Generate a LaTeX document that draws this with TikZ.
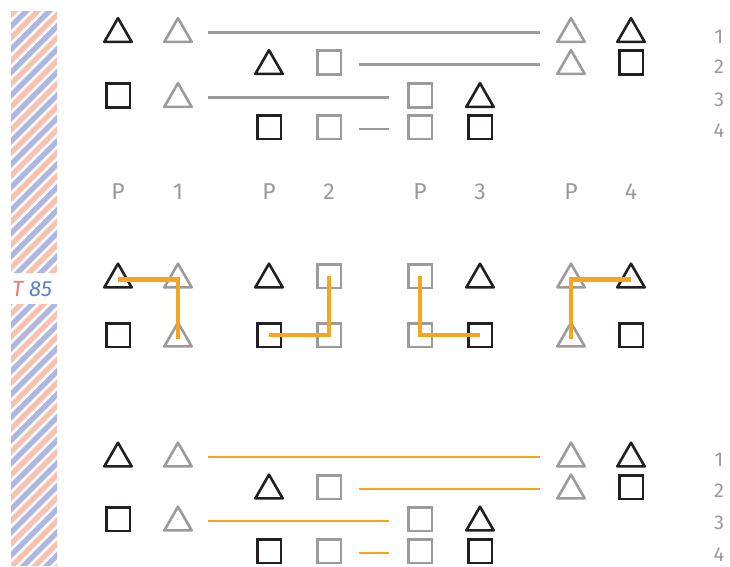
\documentclass[tikz,border=0pt]{standalone}
\usepackage{fontspec}
\setmainfont{Fira Sans}
\usetikzlibrary{shapes.geometric}
\definecolor{ink}{HTML}{231F20}
\definecolor{gry}{HTML}{9B9B9B}
\definecolor{lbl}{HTML}{9A9A9A}
\definecolor{org}{HTML}{F6A51F}
\definecolor{spink}{HTML}{F8C2AE}
\definecolor{sblue}{HTML}{ADB7E1}
\definecolor{tred}{HTML}{EE7A68}
\definecolor{tblue}{HTML}{5B7FC2}
\begin{document}
\begin{tikzpicture}[x=1pt,y=-1pt,
  tri/.style={regular polygon, regular polygon sides=3, minimum size=31.6pt, inner sep=0pt, outer sep=0pt, line width=2.6pt, line join=round, draw},
  sq/.style={rectangle, minimum size=23.6pt, inner sep=0pt, outer sep=0pt, line width=2.6pt, draw},
  bt/.style={tri, draw=ink}, gt/.style={tri, draw=gry},
  bs/.style={sq, draw=ink}, gs/.style={sq, draw=gry},
  gline/.style={draw=gry, line width=2.2pt},
  oline/.style={draw=org, line width=2.5pt},
  othick/.style={draw=org, line width=4.6pt, line join=miter},
  numlbl/.style={text=lbl, font=\fontsize{20}{24}\selectfont, inner sep=0pt},
  plbl/.style={text=lbl, font=\fontsize{23}{27}\selectfont, inner sep=0pt},
]
\useasboundingbox (0,0) rectangle (730,566);

% striped band
\begin{scope}
  \clip (11,11) rectangle (57,273) (11,304) rectangle (57,566);
  \foreach \k in {-1,...,28}{
    \fill[spink] ({22+23*\k},0) -- ({29.5+23*\k},0) -- ({29.5+23*\k-620},620) -- ({22+23*\k-620},620) -- cycle;
    \fill[sblue] ({33.5+23*\k},0) -- ({41+23*\k},0) -- ({41+23*\k-620},620) -- ({33.5+23*\k-620},620) -- cycle;
  }
\end{scope}
\node[anchor=west, inner sep=0pt, font=\fontsize{22}{26}\selectfont\itshape] (tlab) at (12,289) {\textcolor{tred}{T} \textcolor{tblue}{85}};

% ---------- top section ----------
\coordinate (ty1) at (0,32.5);
\coordinate (ty2) at (0,64.5);
\coordinate (ty3) at (0,97.5);
\coordinate (ty4) at (0,129);
\node[bt] (t1a) at (118,34) {};
\node[gt] (t1b) at (178,34) {};
\node[gt] (t1c) at (571,34) {};
\node[bt] (t1d) at (631,34) {};
\node[bt] (t2a) at (269,66) {};
\node[gs] (t2b) at (329,62.5) {};
\node[gt] (t2c) at (571,66) {};
\node[bs] (t2d) at (631,62.5) {};
\node[bs] (t3a) at (118,95.5) {};
\node[gt] (t3b) at (178,99) {};
\node[gs] (t3c) at (420,95.5) {};
\node[bt] (t3d) at (480,99) {};
\node[bs] (t4a) at (269,127) {};
\node[gs] (t4b) at (329,127) {};
\node[gs] (t4c) at (420,127) {};
\node[bs] (t4d) at (480,127) {};
\draw[gline] ([xshift=30pt]t1b.center |- ty1) -- ([xshift=-31pt]t1c.center |- ty1);
\draw[gline] ([xshift=30pt]t2b.center |- ty2) -- ([xshift=-31pt]t2c.center |- ty2);
\draw[gline] ([xshift=30pt]t3b.center |- ty3) -- ([xshift=-31pt]t3c.center |- ty3);
\draw[gline] ([xshift=30pt]t4b.center |- ty4) -- ([xshift=-31pt]t4c.center |- ty4);
\node[numlbl] (tn1) at (719,37) {1};
\node[numlbl] (tn2) at (719,67) {2};
\node[numlbl] (tn3) at (719,99.5) {3};
\node[numlbl] (tn4) at (719,130.5) {4};

% ---------- P labels ----------
\node[plbl] (p1) at (118,192) {P};
\node[plbl] (p2) at (178,192) {1};
\node[plbl] (p3) at (269,192) {P};
\node[plbl] (p4) at (329,192) {2};
\node[plbl] (p5) at (420,192) {P};
\node[plbl] (p6) at (480,192) {3};
\node[plbl] (p7) at (571,192) {P};
\node[plbl] (p8) at (631,192) {4};

% ---------- middle section ----------
\node[bt] (m1a) at (118,279.5) {};
\node[gt] (m1b) at (178,279.5) {};
\node[bs] (m1c) at (118,335) {};
\node[gt] (m1d) at (178,338.5) {};
\node[bt] (m2a) at (269,279.5) {};
\node[gs] (m2b) at (329,276) {};
\node[bs] (m2c) at (269,335) {};
\node[gs] (m2d) at (329,335) {};
\node[gs] (m3a) at (420,276) {};
\node[bt] (m3b) at (480,279.5) {};
\node[gs] (m3c) at (420,335) {};
\node[bs] (m3d) at (480,335) {};
\node[gt] (m4a) at (571,279.5) {};
\node[bt] (m4b) at (631,279.5) {};
\node[gt] (m4c) at (571,338.5) {};
\node[bs] (m4d) at (631,335) {};
\draw[othick] (m1a.center) -| (m1d.center);
\draw[othick] (m2b.center) |- (m2c.center);
\draw[othick] (m3a.center) |- (m3d.center);
\draw[othick] (m4b.center) -| (m4c.center);

% ---------- bottom section ----------
\coordinate (by1) at (0,457);
\coordinate (by2) at (0,489);
\coordinate (by3) at (0,521);
\coordinate (by4) at (0,553);
\node[bt] (b1a) at (118,458.5) {};
\node[gt] (b1b) at (178,458.5) {};
\node[gt] (b1c) at (571,458.5) {};
\node[bt] (b1d) at (631,458.5) {};
\node[bt] (b2a) at (269,490.5) {};
\node[gs] (b2b) at (329,487) {};
\node[gt] (b2c) at (571,490.5) {};
\node[bs] (b2d) at (631,487) {};
\node[bs] (b3a) at (118,519) {};
\node[gt] (b3b) at (178,522.5) {};
\node[gs] (b3c) at (420,519) {};
\node[bt] (b3d) at (480,522.5) {};
\node[bs] (b4a) at (269,551) {};
\node[gs] (b4b) at (329,551) {};
\node[gs] (b4c) at (420,551) {};
\node[bs] (b4d) at (480,551) {};
\draw[oline] ([xshift=30pt]b1b.center |- by1) -- ([xshift=-31pt]b1c.center |- by1);
\draw[oline] ([xshift=30pt]b2b.center |- by2) -- ([xshift=-31pt]b2c.center |- by2);
\draw[oline] ([xshift=30pt]b3b.center |- by3) -- ([xshift=-31pt]b3c.center |- by3);
\draw[oline] ([xshift=30pt]b4b.center |- by4) -- ([xshift=-31pt]b4c.center |- by4);
\node[numlbl] (bn1) at (719,460) {1};
\node[numlbl] (bn2) at (719,490.5) {2};
\node[numlbl] (bn3) at (719,523) {3};
\node[numlbl] (bn4) at (719,554.5) {4};
\end{tikzpicture}
\end{document}
